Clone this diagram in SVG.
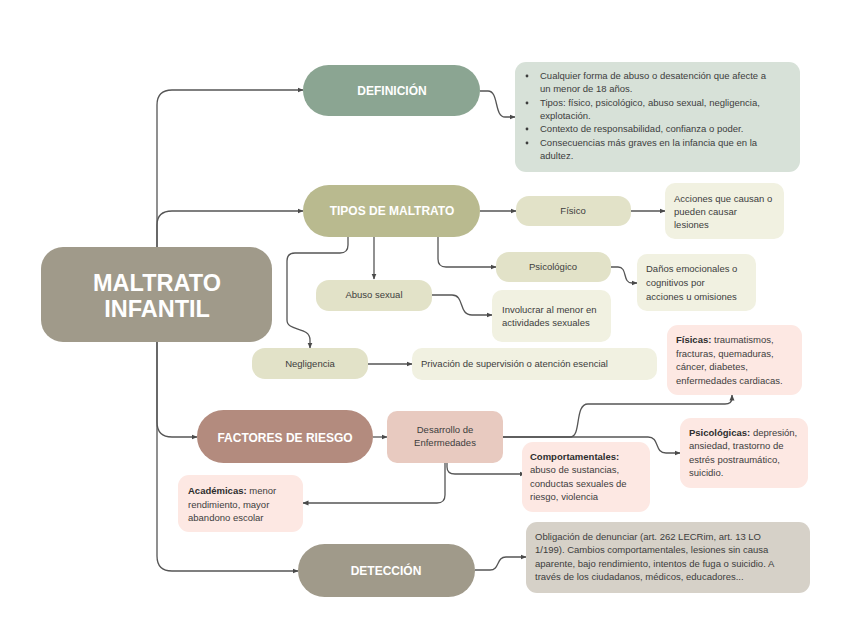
<svg xmlns="http://www.w3.org/2000/svg" width="848" height="636" viewBox="0 0 848 636">
<defs>
<marker id="arr" markerWidth="6" markerHeight="6" refX="5.5" refY="3" orient="auto" markerUnits="userSpaceOnUse">
<path d="M0,0.5 L6,3 L0,5.5 z" fill="#4a4a4a"/>
</marker>
<style>
.c{fill:none;stroke:#555;stroke-width:1.3;marker-end:url(#arr)}
.t{font-family:"Liberation Sans",Arial,sans-serif;font-size:9.5px;fill:#3d3d3d}
.tc{font-family:"Liberation Sans",Arial,sans-serif;font-size:9.5px;fill:#3d3d3d;text-anchor:middle}
.h{font-family:"Liberation Sans",Arial,sans-serif;font-size:12px;font-weight:bold;fill:#fff;text-anchor:middle}
.b{font-weight:bold;fill:#2e2e2e}
</style>
</defs>
<rect width="848" height="636" fill="#fff"/>
<g id="connectors">
<path class="c" d="M157,247 V105 Q157,90 172,90 H303"/>
<path class="c" d="M157,247 V225 Q157,211 172,211 H303"/>
<path class="c" d="M157,342 V422 Q157,437 172,437 H197"/>
<path class="c" d="M157,342 V556 Q157,571 172,571 H298"/>
<path class="c" d="M480,91 H488 C499,91 494,117 505,117 H515"/>
<path class="c" d="M480,211 H516"/>
<path class="c" d="M438,237 V259 Q438,267 446,267 H496"/>
<path class="c" d="M374,237 V279"/>
<path class="c" d="M348,237 V245 Q348,253 340,253 H295 Q287,253 287,261 V320 C287,332 310,326 310,340 V348"/>
<path class="c" d="M631,211 H665"/>
<path class="c" d="M611,267 H618 C628,267 622,283 632,283 H637"/>
<path class="c" d="M432,295 H452 C465,295 458,315 472,315 H492"/>
<path class="c" d="M368,364 H412"/>
<path class="c" d="M373,437 H387"/>
<path class="c" d="M445,463 V495 Q445,503 437,503 H303"/>
<path class="c" d="M447,463 V467 Q447,474 455,474 H525"/>
<path class="c" d="M503,437 H570 C582,437 574,404 588,404 H725 Q732,404 732,398 V395"/>
<path class="c" d="M503,437 H648 C660,437 654,453 666,453 H680"/>
<path class="c" d="M475,570 H490 C500,570 496,557 506,557 H526"/>
</g>
<g id="main">
<rect x="41" y="247" width="231" height="95" rx="22" fill="#a09a8a"/>
<text x="157" y="291" font-family="Liberation Sans,Arial,sans-serif" font-size="23.5" font-weight="bold" fill="#fff" text-anchor="middle">MALTRATO</text>
<text x="157" y="317" font-family="Liberation Sans,Arial,sans-serif" font-size="23.5" font-weight="bold" fill="#fff" text-anchor="middle">INFANTIL</text>
</g>
<g id="definicion">
<rect x="303" y="65" width="177" height="51" rx="25.5" fill="#8ba592"/>
<text class="h" x="392" y="95">DEFINICIÓN</text>
</g>
<g id="definicion-texto">
<rect x="515" y="62" width="285" height="110" rx="11" fill="#d7e1d8"/>
<g fill="#3d3d3d"><circle cx="527" cy="76" r="1.4"/><circle cx="527" cy="103" r="1.4"/><circle cx="527" cy="129" r="1.4"/><circle cx="527" cy="143" r="1.4"/></g>
<text class="t" x="540" y="79">Cualquier forma de abuso o desatención que afecte a</text>
<text class="t" x="540" y="92">un menor de 18 años.</text>
<text class="t" x="540" y="106">Tipos: físico, psicológico, abuso sexual, negligencia,</text>
<text class="t" x="540" y="119">explotación.</text>
<text class="t" x="540" y="132">Contexto de responsabilidad, confianza o poder.</text>
<text class="t" x="540" y="146">Consecuencias más graves en la infancia que en la</text>
<text class="t" x="540" y="159">adultez.</text>
</g>
<g id="tipos">
<rect x="303" y="185" width="177" height="52" rx="26" fill="#b9ba8f"/>
<text class="h" x="392" y="215">TIPOS DE MALTRATO</text>
</g>
<g id="fisico">
<rect x="516" y="196" width="115" height="30" rx="13" fill="#e2e2c8"/>
<text class="tc" x="573" y="214">Físico</text>
</g>
<g id="fisico-texto">
<rect x="665" y="183" width="119" height="56" rx="10" fill="#f1f1e1"/>
<text class="t" x="674" y="202">Acciones que causan o</text>
<text class="t" x="674" y="215">pueden causar</text>
<text class="t" x="674" y="228">lesiones</text>
</g>
<g id="psicologico">
<rect x="496" y="252" width="115" height="30" rx="13" fill="#e2e2c8"/>
<text class="tc" x="553" y="270">Psicológico</text>
</g>
<g id="psicologico-texto">
<rect x="637" y="254" width="119" height="57" rx="10" fill="#f1f1e1"/>
<text class="t" x="646" y="272">Daños emocionales o</text>
<text class="t" x="646" y="286">cognitivos por</text>
<text class="t" x="646" y="300">acciones u omisiones</text>
</g>
<g id="abuso">
<rect x="316" y="280" width="116" height="31" rx="13" fill="#e2e2c8"/>
<text class="tc" x="374" y="298">Abuso sexual</text>
</g>
<g id="abuso-texto">
<rect x="492" y="290" width="119" height="52" rx="10" fill="#f1f1e1"/>
<text class="t" x="502" y="313">Involucrar al menor en</text>
<text class="t" x="502" y="326">actividades sexuales</text>
</g>
<g id="negligencia">
<rect x="252" y="348" width="116" height="31" rx="13" fill="#e2e2c8"/>
<text class="tc" x="310" y="367">Negligencia</text>
</g>
<g id="negligencia-texto">
<rect x="412" y="348" width="245" height="32" rx="10" fill="#f1f1e1"/>
<text class="t" x="421" y="367">Privación de supervisión o atención esencial</text>
</g>
<g id="factores">
<rect x="197" y="410" width="176" height="53" rx="26.5" fill="#b38b7e"/>
<text class="h" x="285" y="442" font-size="12.5">FACTORES DE RIESGO</text>
</g>
<g id="desarrollo">
<rect x="387" y="411" width="116" height="52" rx="10" fill="#e8cac0"/>
<text class="tc" x="445" y="433">Desarrollo de</text>
<text class="tc" x="445" y="446">Enfermedades</text>
</g>
<g id="fisicas">
<rect x="667" y="325" width="135" height="70" rx="11" fill="#fde8e3"/>
<text class="t" x="676" y="343"><tspan class="b">Físicas:</tspan> traumatismos,</text>
<text class="t" x="676" y="357">fracturas, quemaduras,</text>
<text class="t" x="676" y="370">cáncer, diabetes,</text>
<text class="t" x="676" y="384">enfermedades cardiacas.</text>
</g>
<g id="psicologicas">
<rect x="680" y="418" width="128" height="70" rx="11" fill="#fde8e3"/>
<text class="t" x="689" y="436"><tspan class="b">Psicológicas:</tspan> depresión,</text>
<text class="t" x="689" y="449">ansiedad, trastorno de</text>
<text class="t" x="689" y="463">estrés postraumático,</text>
<text class="t" x="689" y="476">suicidio.</text>
</g>
<g id="comportamentales">
<rect x="522" y="442" width="128" height="70" rx="11" fill="#fde8e3"/>
<text class="t" x="530" y="460"><tspan class="b">Comportamentales:</tspan></text>
<text class="t" x="530" y="473">abuso de sustancias,</text>
<text class="t" x="530" y="487">conductas sexuales de</text>
<text class="t" x="530" y="500">riesgo, violencia</text>
</g>
<g id="academicas">
<rect x="178" y="475" width="125" height="57" rx="11" fill="#fde8e3"/>
<text class="t" x="188" y="494"><tspan class="b">Académicas:</tspan> menor</text>
<text class="t" x="188" y="508">rendimiento, mayor</text>
<text class="t" x="188" y="521">abandono escolar</text>
</g>
<g id="deteccion">
<rect x="298" y="544" width="177" height="53" rx="26.5" fill="#a09a8a"/>
<text class="h" x="386" y="575">DETECCIÓN</text>
</g>
<g id="deteccion-texto">
<rect x="526" y="522" width="284" height="71" rx="11" fill="#d6d1c8"/>
<text class="t" x="535" y="540">Obligación de denunciar (art. 262 LECRim, art. 13 LO</text>
<text class="t" x="535" y="553">1/199). Cambios comportamentales, lesiones sin causa</text>
<text class="t" x="535" y="567">aparente, bajo rendimiento, intentos de fuga o suicidio. A</text>
<text class="t" x="535" y="580">través de los ciudadanos, médicos, educadores...</text>
</g>
</svg>
